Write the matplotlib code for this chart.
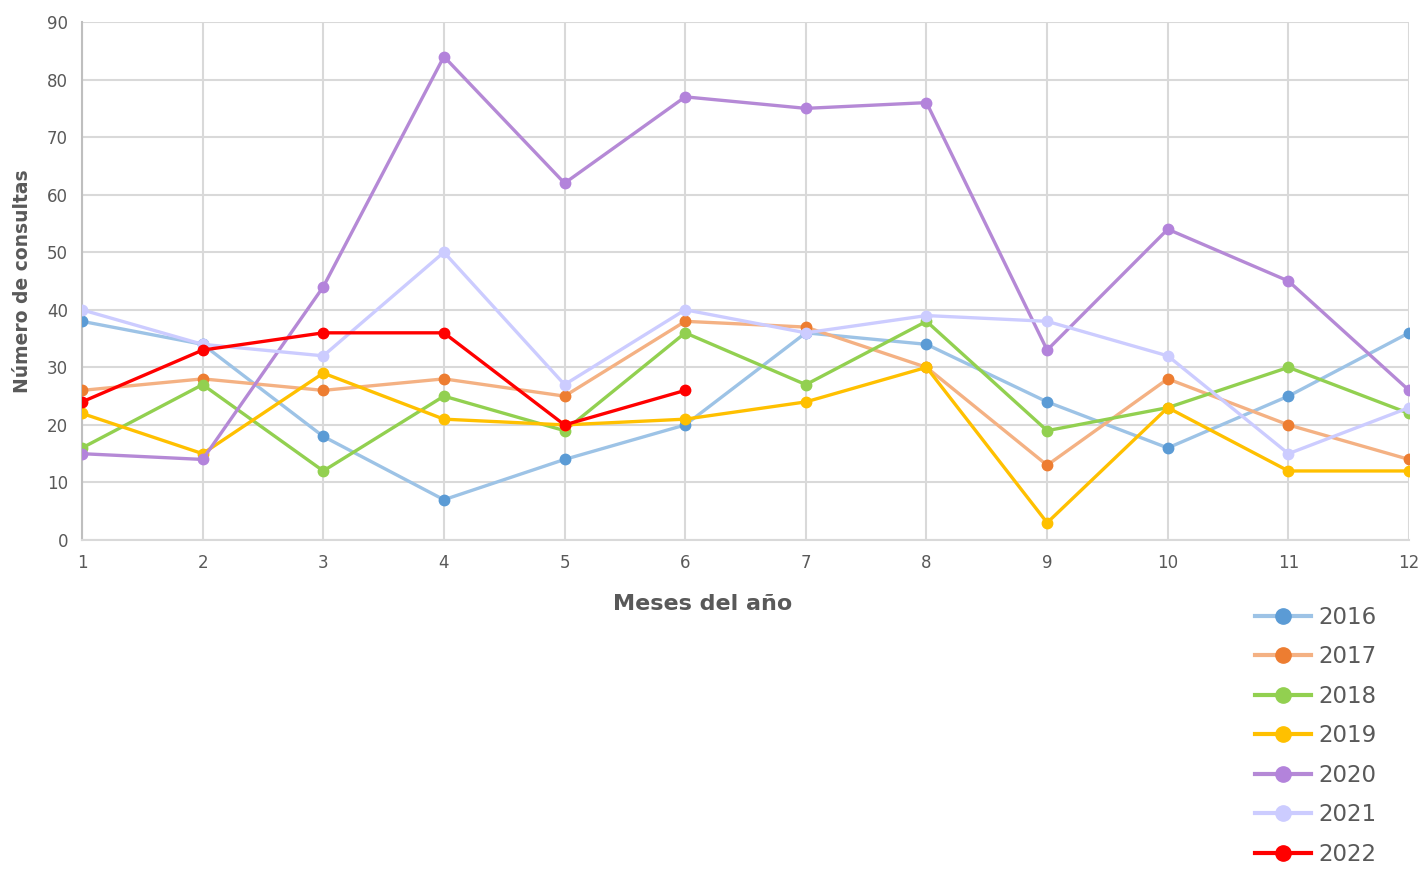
import matplotlib.pyplot as plt

months = list(range(1, 13))

y2016 = [38, 34, 18, 7, 14, 20, 36, 34, 24, 16, 25, 36]
y2017 = [26, 28, 26, 28, 25, 38, 37, 30, 13, 28, 20, 14]
y2018 = [16, 27, 12, 25, 19, 36, 27, 38, 19, 23, 30, 22]
y2019 = [22, 15, 29, 21, 20, 21, 24, 30, 3, 23, 12, 12]
y2020 = [15, 14, 44, 84, 62, 77, 75, 76, 33, 54, 45, 26]
y2021 = [40, 34, 32, 50, 27, 40, 36, 39, 38, 32, 15, 23]
y2022 = [24, 33, 36, 36, 20, 26]

years = ["2016", "2017", "2018", "2019", "2020", "2021", "2022"]
series = [y2016, y2017, y2018, y2019, y2020, y2021, y2022]
# (line colour, marker colour) - Excel style lighter line, darker marker
colors = [
    ("#9DC3E6", "#5B9BD5"),
    ("#F4B183", "#ED7D31"),
    ("#92D050", "#92D050"),
    ("#FFC000", "#FFC000"),
    ("#B589D6", "#B383DB"),
    ("#CCCCFF", "#CCCCFF"),
    ("#FF0000", "#FF0000"),
]

fig = plt.figure(figsize=(14.21, 8.71), dpi=100)
ax = fig.add_axes([0.0577, 0.380, 0.9339, 0.5947])

for name, vals, (lc, mc) in zip(years, series, colors):
    ax.plot(months[:len(vals)], vals, color=lc, linewidth=2.4, marker="o",
            markersize=7.5, markerfacecolor=mc, markeredgecolor=mc,
            label=name, zorder=3)

ax.set_xlim(1, 12)
ax.set_ylim(0, 90)
ax.set_xticks(months)
ax.set_yticks(range(0, 91, 10))
ax.grid(True, color="#D9D9D9", linewidth=1.5)
ax.set_axisbelow(True)
for s in ["top", "right"]:
    ax.spines[s].set_visible(False)
ax.spines["bottom"].set_color("#D9D9D9")
ax.spines["bottom"].set_linewidth(1.5)
ax.spines["left"].set_color("#BFBFBF")
ax.spines["left"].set_linewidth(1.5)
ax.tick_params(length=0, labelsize=12, labelcolor="#595959", pad=10)

ax.set_xlabel("Meses del año", fontsize=16, fontweight="bold", color="#595959")
ax.xaxis.set_label_coords(0.468, -0.104)
ax.set_ylabel("Número de consultas", fontsize=13.5, fontweight="bold", color="#595959", labelpad=11)

leg = fig.legend(loc="upper left", bbox_to_anchor=(0.8687, 0.328), frameon=False,
                 fontsize=16.5, handlelength=2.45, labelspacing=0.72, handletextpad=0.3)
for t in leg.get_texts():
    t.set_color("#595959")
for h in leg.legend_handles:
    h.set_markersize(11)
    h.set_linewidth(3)

fig.savefig("out.png", dpi=100)
